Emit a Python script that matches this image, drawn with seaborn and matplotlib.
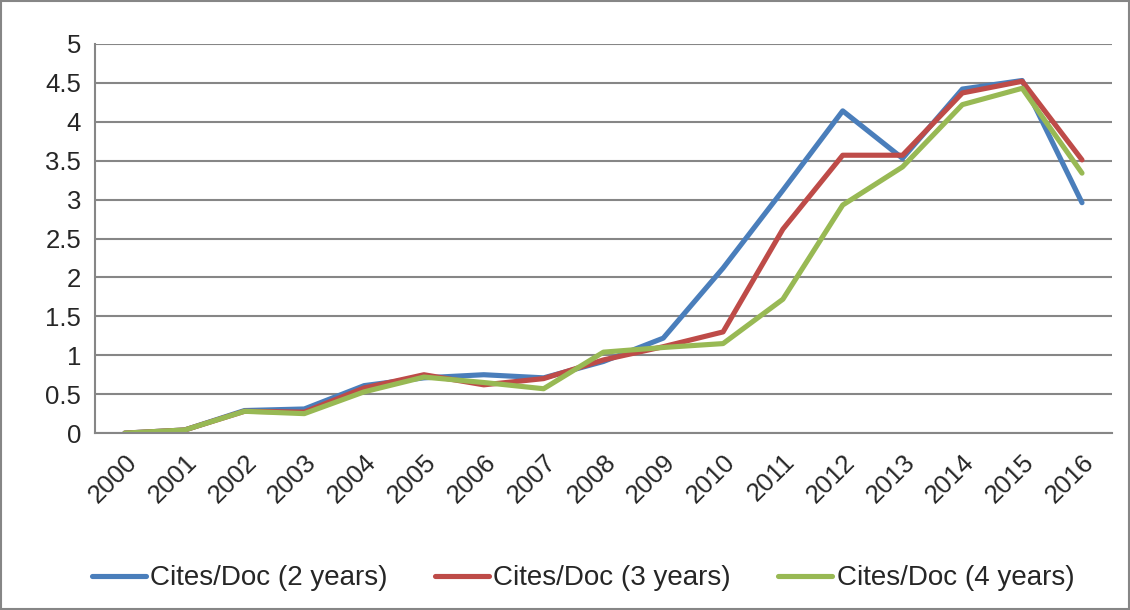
import pandas as pd
import numpy as np
import matplotlib
matplotlib.use("Agg")
import matplotlib.pyplot as plt
import seaborn as sns

years = [str(y) for y in range(2000, 2017)]
cites_2y = [0.0, 0.04, 0.29, 0.31, 0.61, 0.71, 0.75, 0.71, 0.92, 1.22, 2.12, 3.12, 4.14, 3.53, 4.42, 4.53, 2.96]
cites_3y = [0.0, 0.04, 0.28, 0.27, 0.58, 0.75, 0.62, 0.70, 0.94, 1.11, 1.30, 2.62, 3.57, 3.57, 4.37, 4.52, 3.51]
cites_4y = [0.0, 0.04, 0.28, 0.25, 0.53, 0.72, 0.65, 0.57, 1.04, 1.10, 1.15, 1.72, 2.93, 3.42, 4.22, 4.43, 3.34]
series_names = ["Cites/Doc (2 years)", "Cites/Doc (3 years)", "Cites/Doc (4 years)"]
colors = ["#4A7EBB", "#BE4B48", "#98B954"]

df = pd.DataFrame({"Year": years, series_names[0]: cites_2y,
                   series_names[1]: cites_3y, series_names[2]: cites_4y})
long_df = df.melt(id_vars="Year", var_name="Series", value_name="Value")

sns.set_style("white")
plt.rcParams['font.family'] = ['Liberation Sans', 'DejaVu Sans']

fig = plt.figure(figsize=(11.3, 6.1), dpi=100)
ax = fig.add_axes([0.084, 0.29, 0.9, 0.638])

sns.lineplot(data=long_df, x="Year", y="Value", hue="Series", palette=colors,
             linewidth=3.7, sort=False, ax=ax, legend=False)

ax.set_xlim(-0.5, len(years) - 0.5)
ax.set_ylim(0, 5)
ax.set_yticks(np.arange(0, 5.01, 0.5))
ax.set_yticklabels(["0", "0.5", "1", "1.5", "2", "2.5", "3", "3.5", "4", "4.5", "5"])
ax.yaxis.grid(True, color="#868686", linewidth=1.5)
ax.set_axisbelow(True)
ax.set_xlabel("")
ax.set_ylabel("")

ax.set_xticks(range(len(years)))
ax.set_xticklabels(years, rotation=45, ha="right", rotation_mode="anchor")
ax.set_xticks(np.arange(-0.5, len(years), 1), minor=True)
ax.tick_params(axis="x", which="major", length=0, labelsize=18.5, pad=12)
ax.tick_params(axis="x", which="minor", length=9, width=1.5, color="#868686", direction="out")
ax.tick_params(axis="y", which="major", length=6, width=1.5, color="#868686", labelsize=18.5, pad=4)

for s in ["top", "right"]:
    ax.spines[s].set_visible(False)
for s in ["left", "bottom"]:
    ax.spines[s].set_color("#868686")
    ax.spines[s].set_linewidth(1.5)

handles = [plt.Line2D([0], [0], color=c, linewidth=3.7) for c in colors]
fig.legend(handles, series_names, loc="center", bbox_to_anchor=(0.516, 0.052), ncol=3,
           frameon=False, fontsize=20, handlelength=1.95, handletextpad=0.15, columnspacing=1.7)

fig.patches.append(plt.Rectangle((0.001, 0.001), 0.998, 0.997, transform=fig.transFigure,
                                 fill=False, edgecolor="#868686", linewidth=1.5))

fig.savefig("out.png", dpi=100)
